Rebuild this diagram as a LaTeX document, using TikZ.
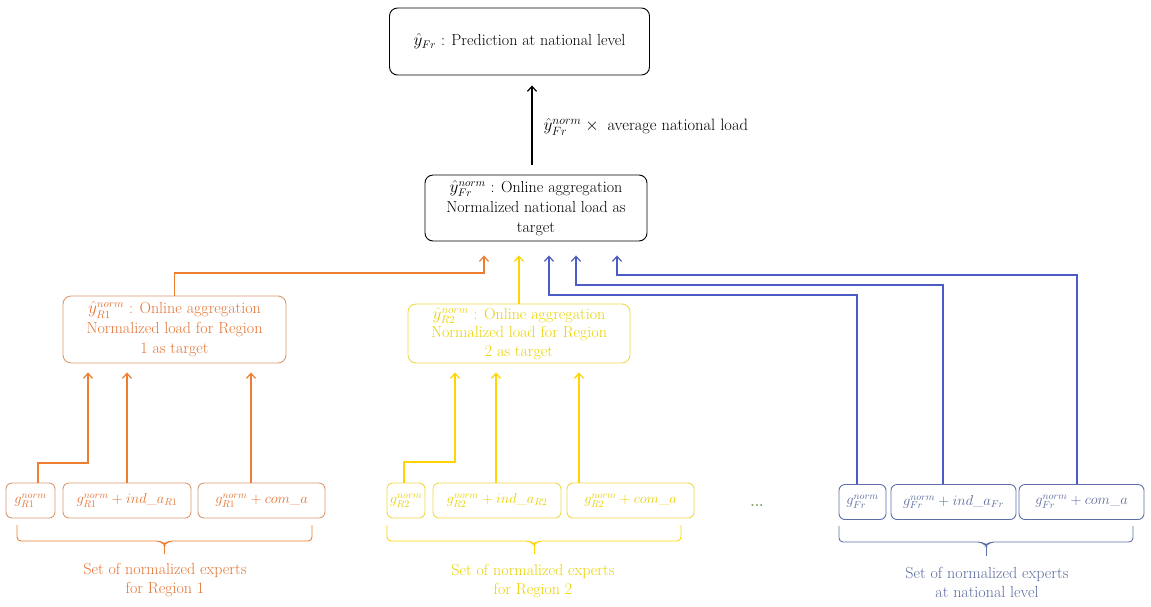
\documentclass[tikz,border=0pt]{standalone}
\usetikzlibrary{calc,arrows.meta}
\definecolor{orl}{HTML}{ED7D31}
\definecolor{orb}{HTML}{D99A70}
\definecolor{ort}{HTML}{E37434}
\definecolor{yll}{HTML}{FFD400}
\definecolor{ylb}{HTML}{EFD84A}
\definecolor{ylt}{HTML}{E8D200}
\definecolor{bll}{HTML}{4B5CC4}
\definecolor{blb}{HTML}{5B6FA6}
\definecolor{blt}{HTML}{5C6B9E}
\definecolor{dotc}{HTML}{7F9A60}
\begin{document}
\begin{tikzpicture}[x=1pt,y=-1pt,
  box/.style={draw, rounded corners=8pt, line width=0.9pt, align=center, inner sep=0pt,
    font=\fontsize{16}{20}\selectfont},
  expbox/.style={draw, rounded corners=6pt, line width=0.9pt, inner sep=0pt,
    minimum height=35pt, font=\fontsize{14}{16}\selectfont},
  conn/.style={line width=1.2pt, -{Straight Barb[length=5pt,width=9pt]}},
  lbl/.style={align=center, font=\fontsize{16}{19}\selectfont},
  bracep/.style={line width=0.9pt, rounded corners=4pt}
]
\useasboundingbox (0,0) rectangle (1151,606);

% top level
\node[box, minimum width=260pt, minimum height=67pt] (top) at (519.5,41.5)
  {$\hat{y}_{Fr}$ : Prediction at national level};
\node[box, minimum width=222pt, minimum height=66pt] (mid) at (536,208)
  {$\hat{y}^{norm}_{Fr}$ : Online aggregation\\Normalized national load as\\target};
\draw[conn, shorten <=10pt, shorten >=10pt] ([xshift=-4pt]mid.north) -- ([xshift=-4pt]mid.north |- top.south);
\node[anchor=west, font=\fontsize{16.5}{19}\selectfont] (lab) at (540,127)
  {$\hat{y}^{norm}_{Fr}\times{}$\ average national load};

% region boxes
\node[box, draw=orb, text=ort, minimum width=223pt, minimum height=67pt] (r1) at (174.5,329.5)
  {$\hat{y}^{norm}_{R1}$ : Online aggregation\\Normalized load for Region\\1 as target};
\node[box, draw=ylb, text=ylt, minimum width=222pt, minimum height=59pt,
  font=\fontsize{16}{18.5}\selectfont] (r2) at (519,333.5)
  {$\hat{y}^{norm}_{R2}$ : Online aggregation\\Normalized load for Region\\2 as target};

% experts region 1
\node[expbox, draw=orb, text=ort, minimum width=49pt] (e11) at (30.5,500.5) {$g^{norm}_{R1}$};
\node[expbox, draw=orb, text=ort, minimum width=128pt] (e12) at (127,500.5) {$g^{norm}_{R1}+ind\_a_{R1}$};
\node[expbox, draw=orb, text=ort, minimum width=127pt] (e13) at (261.5,500.5) {$g^{norm}_{R1}+com\_a$};
% experts region 2
\node[expbox, draw=ylb, text=ylt, minimum width=38pt] (e21) at (406,500.5) {$g^{norm}_{R2}$};
\node[expbox, draw=ylb, text=ylt, minimum width=128pt] (e22) at (497,500.5) {$g^{norm}_{R2}+ind\_a_{R2}$};
\node[expbox, draw=ylb, text=ylt, minimum width=127pt] (e23) at (630.5,500.5) {$g^{norm}_{R2}+com\_a$};
% experts national
\node[expbox, draw=blb, text=blt, minimum width=47pt] (e31) at (862.5,502) {$g^{norm}_{Fr}$};
\node[expbox, draw=blb, text=blt, minimum width=125pt] (e32) at (953.5,502) {$g^{norm}_{Fr}+ind\_a_{Fr}$};
\node[expbox, draw=blb, text=blt, minimum width=125pt] (e33) at (1081.5,502) {$g^{norm}_{Fr}+com\_a$};

\node[text=dotc, font=\fontsize{14}{14}\selectfont\bfseries] (dots) at (757,505) {...};

% connectors region 1 -> r1
\draw[conn, draw=orl, shorten >=9pt] ([xshift=7.5pt]e11.north) -- ([xshift=7.5pt]e11.north |- 0,463) -| ([xshift=-86.5pt]r1.south);
\draw[conn, draw=orl, shorten >=9pt] (e12.north) -- (e12.north |- r1.south);
\draw[conn, draw=orl, shorten >=9pt] ([xshift=-10.5pt]e13.north) -- ([xshift=-10.5pt]e13.north |- r1.south);
% connectors region 2 -> r2
\draw[conn, draw=yll, shorten >=9pt] ([xshift=-2pt]e21.north) -- ([xshift=-2pt]e21.north |- 0,462) -| ([xshift=-64pt]r2.south);
\draw[conn, draw=yll, shorten >=9pt] ([xshift=-1pt]e22.north) -- ([xshift=-1pt]e22.north |- r2.south);
\draw[conn, draw=yll, shorten >=9pt] ([xshift=-51.5pt]e23.north) -- ([xshift=-51.5pt]e23.north |- r2.south);

% connectors into mid
\draw[conn, draw=orl, shorten >=14pt] (r1.north) -- (r1.north |- 0,273) -| ([xshift=-52pt]mid.south);
\draw[conn, draw=yll, shorten >=14pt] (r2.north) -- ([xshift=-17pt]mid.south);
\draw[conn, draw=bll, shorten >=14pt] ([xshift=-5.5pt]e31.north) -- ([xshift=-5.5pt]e31.north |- 0,295) -| ([xshift=13pt]mid.south);
\draw[conn, draw=bll, shorten >=14pt] ([xshift=-10.5pt]e32.north) -- ([xshift=-10.5pt]e32.north |- 0,285) -| ([xshift=40pt]mid.south);
\draw[conn, draw=bll, shorten >=14pt] ([xshift=-4.5pt]e33.north) -- ([xshift=-4.5pt]e33.north |- 0,275) -| ([xshift=81pt]mid.south);

% braces
\draw[bracep, draw=orl] (17,525) -- (17,541) -- (160.5,541) -- (164.5,545) -- (168.5,541) -- (312,541) -- (312,525);
\draw[line width=0.9pt, draw=orl] (164.5,544) -- (164.5,554);
\draw[bracep, draw=yll] (387,525) -- (387,541) -- (530,541) -- (534,545) -- (538,541) -- (681,541) -- (681,525);
\draw[line width=0.9pt, draw=yll] (534,544) -- (534,554);
\draw[bracep, draw=blb] (839,526) -- (839,542) -- (982,542) -- (986,546) -- (990,542) -- (1133,542) -- (1133,526);
\draw[line width=0.9pt, draw=blb] (986,545) -- (986,556);

% brace labels
\node[lbl, text=ort] (t1) at (165,580.5) {Set of normalized experts\\for Region 1};
\node[lbl, text=ylt] (t2) at (533,581) {Set of normalized experts\\for Region 2};
\node[lbl, text=blt] (t3) at (987,582) {Set of normalized experts\\at national level};
\end{tikzpicture}
\end{document}
